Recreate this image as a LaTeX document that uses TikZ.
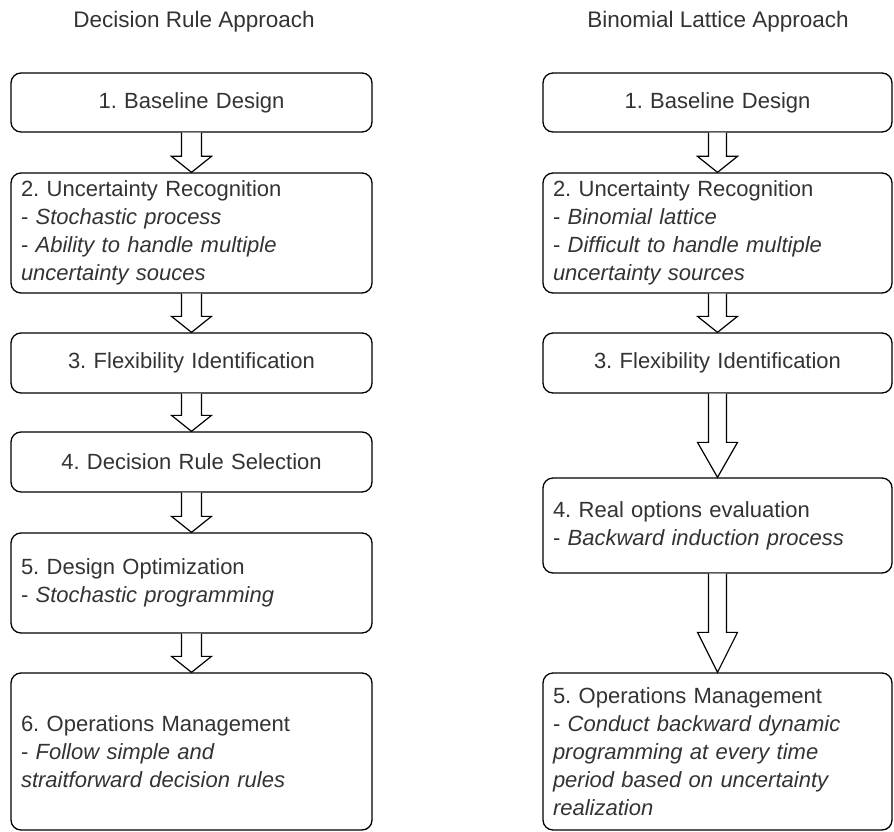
\documentclass[tikz,border=0pt]{standalone}
\usepackage{fontspec}
\setmainfont{Liberation Sans}
\usetikzlibrary{calc}
\definecolor{txt}{HTML}{333333}
\frenchspacing
\begin{document}
\begin{tikzpicture}[x=1pt,y=-1pt,
  every node/.style={text=txt,font=\fontsize{22}{28}\selectfont},
  box/.style={draw=black,line width=1.3pt,rounded corners=10pt,fill=white,
    inner xsep=10pt,inner ysep=0pt},
  boxL/.style={box,minimum width=361pt,text width=341pt},
  boxR/.style={box,minimum width=349pt,text width=329pt},
  arr/.style={draw=black,line width=1.2pt,fill=white,line join=miter},
  title/.style={font=\fontsize{22.5}{28}\selectfont}]
\useasboundingbox (0,0) rectangle (894,832);

% block arrow: from, to, shaft half width, head half width, head length
\newcommand\blockarr[5]{%
  \path[arr] ($(#1.south)+(-#3,0)$) -- ($(#2.north)+(-#3,-#5)$)
    -- ($(#2.north)+(-#4,-#5)$) -- (#2.north)
    -- ($(#2.north)+(#4,-#5)$) -- ($(#2.north)+(#3,-#5)$)
    -- ($(#1.south)+(#3,0)$);}

% column headings
\node[title] (tl) at (194,22) {Decision Rule Approach};
\node[title] (tr) at (718,22) {Binomial Lattice Approach};

% decision rule column
\node[boxL,minimum height=59pt,align=center] (l1) at (191.5,102.5) {1. Baseline Design};
\node[boxL,minimum height=120pt,align=left] (l2) at (191.5,233) {2. Uncertainty Recognition\\
  - \textit{Stochastic process}\\
  - \textit{Ability to handle multiple}\\
  \textit{uncertainty souces}};
\node[boxL,minimum height=60pt,align=center] (l3) at (191.5,363) {3. Flexibility Identification};
\node[boxL,minimum height=60pt,align=center] (l4) at (191.5,462) {4. Decision Rule Selection};
\node[boxL,minimum height=100pt,align=left] (l5) at (191.5,583) {5. Design Optimization\\
  - \textit{Stochastic programming}};
\node[boxL,minimum height=157pt,align=left] (l6) at (191.5,751.5) {6. Operations Management\\
  - \textit{Follow simple and}\\
  \textit{straitforward decision rules}};

\blockarr{l1}{l2}{10}{20}{16}
\blockarr{l2}{l3}{10}{20}{16}
\blockarr{l3}{l4}{10}{20}{16}
\blockarr{l4}{l5}{10}{20}{16}
\blockarr{l5}{l6}{10}{20}{16}

% binomial lattice column
\node[boxR,minimum height=59pt,align=center] (r1) at (717.5,102.5) {1. Baseline Design};
\node[boxR,minimum height=120pt,align=left] (r2) at (717.5,233) {2. Uncertainty Recognition\\
  - \textit{Binomial lattice}\\
  - \textit{Difficult to handle multiple}\\
  \textit{uncertainty sources}};
\node[boxR,minimum height=60pt,align=center] (r3) at (717.5,363) {3. Flexibility Identification};
\node[boxR,minimum height=95pt,align=left] (r4) at (717.5,525.5) {4. Real options evaluation\\
  - \textit{Backward induction process}};
\node[boxR,minimum height=157pt,align=left] (r5) at (717.5,751.5) {5. Operations Management\\
  - \textit{Conduct backward dynamic}\\
  \textit{programming at every time}\\
  \textit{period based on uncertainty}\\
  \textit{realization}};

\blockarr{r1}{r2}{9}{20}{16}
\blockarr{r2}{r3}{9}{20}{16}
\blockarr{r3}{r4}{9}{20}{35}
\blockarr{r4}{r5}{9}{20}{40}
\end{tikzpicture}
\end{document}
